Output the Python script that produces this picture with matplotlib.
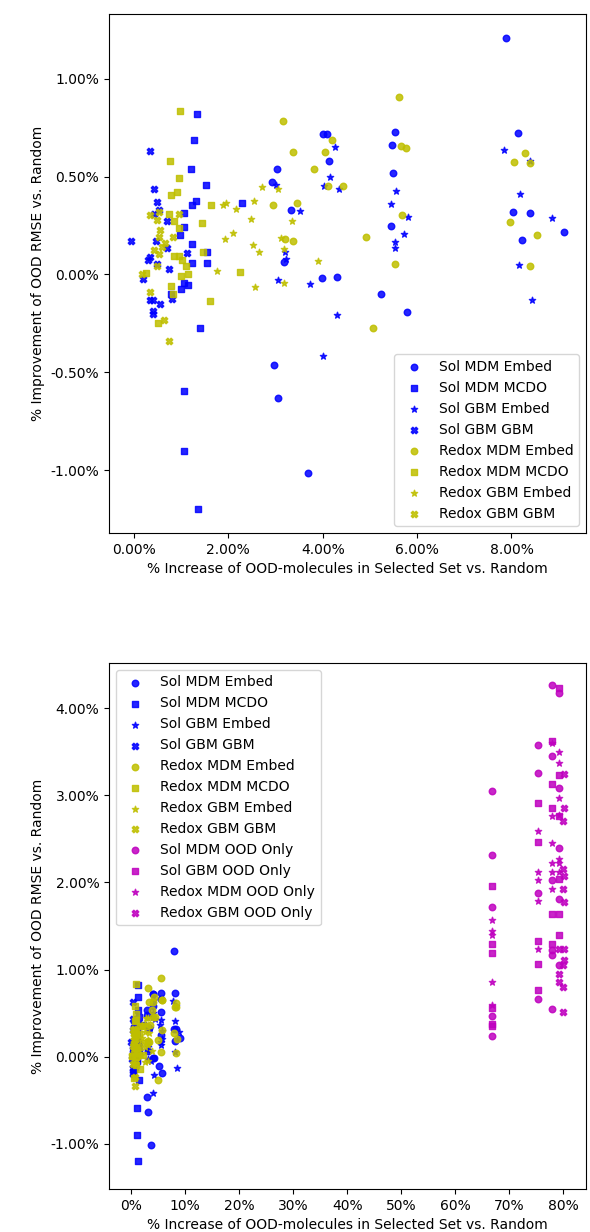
import matplotlib
matplotlib.use('Agg')
import matplotlib.pyplot as plt
from matplotlib.ticker import PercentFormatter

plt.rcParams['axes.unicode_minus'] = False

# x: % increase of OOD molecules in selected set, y: % improvement of OOD RMSE (both vs. random)
sol_mdm_embed_x = [3.04, 2.92, 3.32, 3.18, 4.00, 4.09, 4.14, 3.98, 4.30, 7.89, 5.54, 5.47, 5.48, 5.45,
                   5.23, 8.14, 8.04, 8.39, 8.22, 9.12, 5.79, 2.96, 3.06, 3.69]
sol_mdm_embed_y = [0.541, 0.474, 0.327, 0.066, 0.716, 0.716, 0.578, -0.017, -0.014, 1.21, 0.726, 0.661,
                   0.518, 0.247, -0.102, 0.725, 0.317, 0.312, 0.177, 0.218, -0.193, -0.462, -0.633, -1.016]

sol_mdm_mcdo_x = [1.33, 1.27, 1.20, 1.52, 1.31, 1.22, 2.29, 1.05, 1.07, 0.98, 1.23, 1.55, 1.22, 1.54,
                  1.05, 1.15, 1.00, 0.78, 1.40, 1.06, 1.06, 1.36]
sol_mdm_mcdo_y = [0.822, 0.685, 0.541, 0.457, 0.375, 0.356, 0.367, 0.314, 0.242, 0.200, 0.155, 0.116,
                  0.061, 0.060, -0.044, -0.055, -0.075, -0.099, -0.273, -0.595, -0.904, -1.20]

sol_gbm_embed_x = [4.26, 4.15, 4.03, 4.35, 3.01, 3.52, 3.21, 3.22, 3.06, 3.72, 5.56, 5.44, 5.80, 5.72,
                   5.53, 5.53, 7.84, 8.39, 8.19, 8.85, 8.15, 8.44, 4.31, 4.00]
sol_gbm_embed_y = [0.651, 0.496, 0.452, 0.436, 0.455, 0.324, 0.114, 0.080, -0.027, -0.048, 0.425, 0.360,
                   0.295, 0.208, 0.164, 0.137, 0.634, 0.578, 0.411, 0.286, 0.048, -0.128, -0.208, -0.418]

sol_gbm_gbm_x = [0.35, 0.43, 0.48, 0.54, 0.43, 0.69, -0.07, 0.46, 0.69, 0.35, 0.29, 0.48, 0.74, 0.20,
                 1.12, 0.80, 0.34, 0.40, 0.55, 0.41, 0.40]
sol_gbm_gbm_y = [0.629, 0.435, 0.372, 0.327, 0.307, 0.271, 0.170, 0.170, 0.137, 0.089, 0.075, 0.055,
                 0.027, -0.022, 0.111, -0.127, -0.128, -0.128, -0.153, -0.184, -0.201]

redox_mdm_embed_x = [3.16, 3.38, 4.20, 4.05, 3.81, 4.12, 4.42, 2.94, 3.45, 3.20, 3.36, 5.61, 5.66, 5.76,
                     5.68, 4.92, 5.54, 8.28, 8.06, 8.39, 7.96, 8.55, 8.39, 5.06]
redox_mdm_embed_y = [0.783, 0.627, 0.687, 0.627, 0.537, 0.452, 0.452, 0.355, 0.367, 0.183, 0.169, 0.905,
                     0.655, 0.648, 0.305, 0.191, 0.055, 0.620, 0.573, 0.569, 0.270, 0.201, 0.044, -0.271]

redox_mdm_mcdo_x = [0.98, 0.76, 0.96, 0.79, 0.92, 0.74, 0.85, 1.64, 1.44, 0.96, 0.85, 0.96, 1.02, 1.10,
                    1.47, 0.25, 1.00, 1.15, 2.24, 0.79, 0.83, 1.61, 0.51]
redox_mdm_mcdo_y = [0.835, 0.578, 0.495, 0.404, 0.421, 0.307, 0.273, 0.355, 0.264, 0.237, 0.096, 0.096,
                    0.072, 0.043, 0.116, 0.009, -0.007, 0.003, 0.015, -0.058, -0.099, -0.138, -0.249]

redox_gbm_embed_x = [2.71, 3.06, 1.88, 1.94, 2.17, 2.55, 2.49, 3.35, 1.93, 2.09, 2.53, 2.65, 3.11, 3.17,
                     3.89, 1.75, 2.56, 3.17]
redox_gbm_embed_y = [0.447, 0.438, 0.355, 0.367, 0.336, 0.375, 0.285, 0.271, 0.179, 0.211, 0.152, 0.114,
                     0.188, 0.131, 0.068, 0.020, -0.065, -0.046]

redox_gbm_gbm_x = [0.33, 0.54, 0.48, 0.55, 0.53, 0.82, 0.66, 0.59, 0.42, 0.54, 0.49, 0.17, 0.33, 0.96,
                   0.64, 0.75]
redox_gbm_gbm_y = [0.302, 0.317, 0.276, 0.225, 0.191, 0.191, 0.160, 0.140, 0.126, 0.106, 0.043, 0.003,
                   -0.087, 0.310, -0.232, -0.339]

# OOD-only selection runs
sol_mdm_ood_x = [78.0, 79.3, 75.3, 78.0, 75.3, 79.3, 66.9, 66.9, 79.3, 75.3, 78.0, 79.3, 66.9, 66.9,
                 66.9, 78.0, 78.0, 79.3, 75.3, 78.0]
sol_mdm_ood_y = [4.27, 4.18, 3.58, 3.45, 3.26, 3.09, 3.05, 2.32, 2.39, 1.88, 2.03, 1.81, 1.72, 0.47,
                 0.24, 1.23, 1.17, 1.05, 0.66, 0.55]

sol_gbm_ood_x = [79.3, 78.0, 79.3, 78.0, 75.3, 78.0, 79.3, 75.3, 79.3, 66.9, 78.0, 79.3, 79.3, 75.3,
                 66.9, 66.9, 75.3, 75.3, 66.9, 66.9, 66.9, 78.0]
sol_gbm_ood_y = [4.23, 3.63, 3.23, 3.13, 2.91, 2.85, 2.76, 2.46, 2.04, 1.96, 1.64, 1.64, 1.40, 1.33,
                 1.29, 1.19, 1.06, 0.76, 0.56, 0.375, 0.35, 1.29]

redox_mdm_ood_x = [78.0, 79.3, 79.3, 79.3, 78.0, 75.3, 78.0, 79.3, 78.0, 79.3, 78.0, 79.3, 75.3, 75.3,
                   78.0, 75.3, 66.9, 66.9, 66.9, 66.9, 66.9, 75.3, 79.3]
redox_mdm_ood_y = [3.60, 3.50, 3.37, 2.97, 2.76, 2.59, 2.45, 2.27, 2.22, 2.22, 2.12, 2.12, 2.12, 2.03,
                   1.92, 1.79, 1.57, 1.44, 1.40, 0.86, 0.59, 1.24, 2.78]

redox_gbm_ood_x = [80.2, 80.2, 79.9, 79.9, 80.2, 79.9, 80.2, 79.3, 80.2, 80.2, 79.9, 79.3, 79.3, 79.9,
                   79.9]
redox_gbm_ood_y = [3.24, 2.86, 2.70, 2.15, 2.07, 1.92, 1.77, 1.24, 1.24, 1.11, 1.05, 0.95, 0.86, 0.80,
                   0.51]

base_series = [
    (sol_mdm_embed_x, sol_mdm_embed_y, 'b', 'o', 'Sol MDM Embed'),
    (sol_mdm_mcdo_x, sol_mdm_mcdo_y, 'b', 's', 'Sol MDM MCDO'),
    (sol_gbm_embed_x, sol_gbm_embed_y, 'b', '*', 'Sol GBM Embed'),
    (sol_gbm_gbm_x, sol_gbm_gbm_y, 'b', 'X', 'Sol GBM GBM'),
    (redox_mdm_embed_x, redox_mdm_embed_y, 'y', 'o', 'Redox MDM Embed'),
    (redox_mdm_mcdo_x, redox_mdm_mcdo_y, 'y', 's', 'Redox MDM MCDO'),
    (redox_gbm_embed_x, redox_gbm_embed_y, 'y', '*', 'Redox GBM Embed'),
    (redox_gbm_gbm_x, redox_gbm_gbm_y, 'y', 'X', 'Redox GBM GBM'),
]
ood_series = [
    (sol_mdm_ood_x, sol_mdm_ood_y, 'm', 'o', 'Sol MDM OOD Only'),
    (sol_gbm_ood_x, sol_gbm_ood_y, 'm', 's', 'Sol GBM OOD Only'),
    (redox_mdm_ood_x, redox_mdm_ood_y, 'm', '*', 'Redox MDM OOD Only'),
    (redox_gbm_ood_x, redox_gbm_ood_y, 'm', 'X', 'Redox GBM OOD Only'),
]

XLABEL = '% Increase of OOD-molecules in Selected Set vs. Random'
YLABEL = '% Improvement of OOD RMSE vs. Random'


def draw(ax, series):
    for x, y, c, m, label in series:
        ax.scatter(x, y, c=c, marker=m, s=22, alpha=0.85, label=label)
    ax.set_xlabel(XLABEL)
    ax.set_ylabel(YLABEL)


fig = plt.figure(figsize=(5.9, 12.32), dpi=100)

ax1 = fig.add_axes([109 / 590, 1 - 533 / 1232, 477 / 590, 519 / 1232])
draw(ax1, base_series)
ax1.xaxis.set_major_formatter(PercentFormatter(xmax=100, decimals=2))
ax1.yaxis.set_major_formatter(PercentFormatter(xmax=100, decimals=2))
ax1.legend(loc='lower right')

ax2 = fig.add_axes([109 / 590, 1 - 1189 / 1232, 477 / 590, 526 / 1232])
draw(ax2, base_series + ood_series)
ax2.xaxis.set_major_formatter(PercentFormatter(xmax=100, decimals=0))
ax2.yaxis.set_major_formatter(PercentFormatter(xmax=100, decimals=2))
ax2.set_ylim(-1.52, 4.52)
ax2.legend(loc='upper left')

fig.savefig('out.png', dpi=100)
